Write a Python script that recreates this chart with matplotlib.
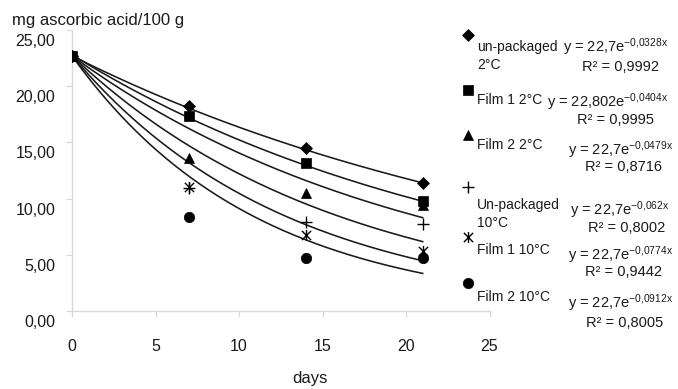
import numpy as np
import matplotlib
matplotlib.use("Agg")
import matplotlib.pyplot as plt
from matplotlib.path import Path
from matplotlib.lines import Line2D
from matplotlib.transforms import ScaledTranslation

plt.rcParams['font.family'] = ['Liberation Sans', 'DejaVu Sans']
plt.rcParams['mathtext.fontset'] = 'custom'
plt.rcParams['mathtext.rm'] = 'Liberation Sans'
plt.rcParams['mathtext.it'] = 'Liberation Sans'
plt.rcParams['mathtext.default'] = 'regular'

# ---- data ----
days = [0, 7, 14, 21]
series_names = ["un-packaged 2°C", "Film 1 2°C", "Film 2 2°C",
                "Un-packaged 10°C", "Film 1 10°C", "Film 2 10°C"]
unpackaged_2 = [22.7, 18.2, 14.5, 11.35]
film1_2 = [22.7, 17.35, 13.2, 9.75]
film2_2 = [22.7, 13.6, 10.5, 9.45]
unpackaged_10 = [22.7, 10.9, 7.95, 7.75]
film1_10 = [22.7, 11.05, 6.8, 5.3]
film2_10 = [22.7, 8.35, 4.75, 4.75]
fit_a = [22.7, 22.802, 22.7, 22.7, 22.7, 22.7]
fit_b = [0.0328, 0.0404, 0.0479, 0.062, 0.0774, 0.0912]
fit_a_txt = ["22,7", "22,802", "22,7", "22,7", "22,7", "22,7"]
fit_b_txt = ["0,0328", "0,0404", "0,0479", "0,062", "0,0774", "0,0912"]
r2_txt = ["0,9992", "0,9995", "0,8716", "0,8002", "0,9442", "0,8005"]
xticks = [0, 5, 10, 15, 20, 25]
yticks = [0, 5, 10, 15, 20, 25]
ytick_labels = ["0,00", "5,00", "10,00", "15,00", "20,00", "25,00"]

values = [unpackaged_2, film1_2, film2_2, unpackaged_10, film1_10, film2_10]

star = Path([(-1, -1), (1, 1), (-1, 1), (1, -1), (0, -1.2), (0, 1.2)],
            [Path.MOVETO, Path.LINETO, Path.MOVETO, Path.LINETO, Path.MOVETO, Path.LINETO])
markers = ['D', 's', '^', '+', star, 'o']
msizes = [6, 7.5, 7.5, 9, 8, 7.5]
mew = [0.5, 0.5, 0.5, 1.0, 1.0, 0.5]

W, H = 678, 389
fig = plt.figure(figsize=(W / 100, H / 100), dpi=100)
ax = fig.add_axes([72 / W, 1 - 311 / H, (489.5 - 72) / W, (311 - 30) / H])

xs = np.linspace(0, 21, 200)
for a, b in zip(fit_a, fit_b):
    ax.plot(xs, a * np.exp(-b * xs), color='#1a1a1a', lw=1.15, zorder=2)

order = [5, 4, 3, 2, 0, 1]
for i in order:
    ax.plot(days, values[i], linestyle='none', marker=markers[i], ms=msizes[i],
            mew=mew[i], color='black', zorder=3)

ax.set_xlim(0, 25)
ax.set_ylim(0, 25)
ax.set_xticks(xticks)
ax.set_yticks(yticks)
ax.set_yticklabels(ytick_labels)
for s in ['top', 'right']:
    ax.spines[s].set_visible(False)
for s in ['left', 'bottom']:
    ax.spines[s].set_color('#d8d8d8')
    ax.spines[s].set_linewidth(1.0)
ax.tick_params(axis='both', colors='#d8d8d8', labelcolor='#1a1a1a', labelsize=11.5, length=4)
ax.tick_params(axis='x', pad=16)
ax.tick_params(axis='y', pad=8)
for lab in ax.get_yticklabels():
    lab.set_transform(lab.get_transform() + ScaledTranslation(0, -10 / 100, fig.dpi_scale_trans))

fig.text(12 / W, 1 - 20 / H, "mg ascorbic acid/100 g", fontsize=12, va='center', ha='left', color='#1a1a1a')
fig.text(310 / W, 1 - 378 / H, "days", fontsize=12, va='center', ha='center', color='#1a1a1a')

# ---- legend-like annotations ----
marker_y = [35, 90, 135, 187, 237, 283]
label_lines = [[("un-packaged", 47), ("2°C", 65)], [("Film 1 2°C", 100)], [("Film 2 2°C", 145)],
               [("Un-packaged", 205), ("10°C", 223)], [("Film 1 10°C", 250)], [("Film 2 10°C", 297)]]
eq_pos = [(563, 47), (547, 102), (568, 150), (570, 210), (568, 255), (568, 303)]
r2_pos = [(582, 67), (577, 120), (585, 167), (588, 228), (585, 272), (586, 323)]

for i in range(6):
    fig.add_artist(Line2D([468 / W], [1 - marker_y[i] / H], marker=markers[i], ms=msizes[i],
                          mew=mew[i], color='black', linestyle='none', transform=fig.transFigure))
    for txt, yy in label_lines[i]:
        fig.text(477 / W, 1 - yy / H, txt, fontsize=10, va='center', ha='left', color='#1a1a1a')
    ex, ey = eq_pos[i]
    fig.text(ex / W, 1 - ey / H, "y = " + fit_a_txt[i] + "e$^{-" + fit_b_txt[i].replace(',', '{,}') + "x}$",
             fontsize=10.5, va='center', ha='left', color='#1a1a1a')
    rx, ry = r2_pos[i]
    fig.text(rx / W, 1 - ry / H, "R² = " + r2_txt[i], fontsize=10.5, va='center', ha='left', color='#1a1a1a')

fig.savefig("out.png", dpi=100)
